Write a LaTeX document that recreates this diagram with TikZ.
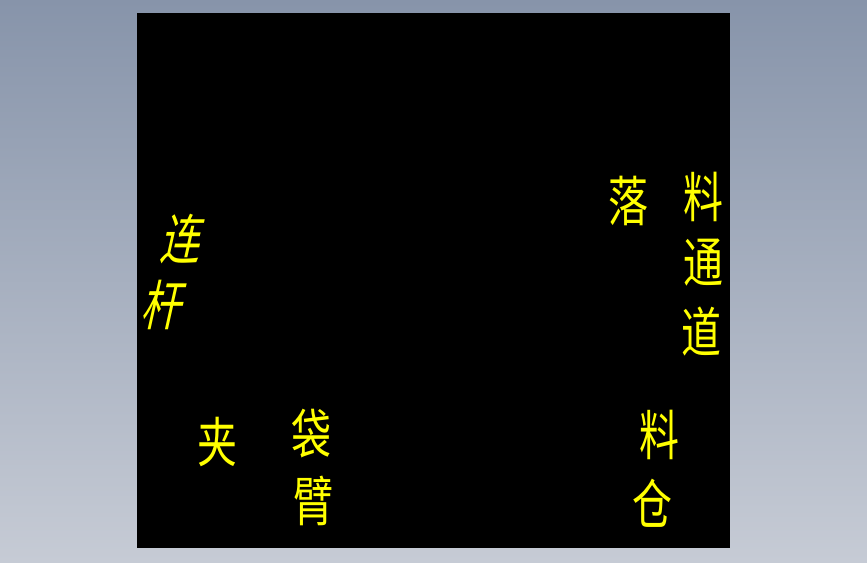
\documentclass[tikz,border=0pt]{standalone}
\usepackage{fontspec}
\newfontfamily\cjk{Noto Sans CJK SC}
\definecolor{bgtop}{RGB}{135,148,170}
\definecolor{bgbot}{RGB}{198,203,213}
\definecolor{cadyellow}{RGB}{255,255,0}
\begin{document}
\begin{tikzpicture}[x=1pt,y=-1pt,
  lbl/.style={text=cadyellow,inner sep=0pt,font=\cjk\fontsize{54}{54}\selectfont,xscale=0.74},
  slantlbl/.style={lbl,xslant=0.3}]
\shade[top color=bgtop,bottom color=bgbot] (0,0) rectangle (867,562);
\useasboundingbox (0,0) rectangle (867,562);
\fill[black] (137,13) rectangle (730,548);
% right side
\node[lbl] (luo) at (628,201) {落};
\node[lbl] (liao1) at (703,197) {料};
\node[lbl] (tong) at (703,263) {通};
\node[lbl] (dao) at (701,332) {道};
\node[lbl] (liao2) at (659,435) {料};
\node[lbl] (cang) at (652,503) {仓};
% left side
\node[slantlbl] (lian) at (184,239) {连};
\node[slantlbl] (gan) at (165,305) {杆};
\node[lbl] (jia) at (217,442) {夹};
\node[lbl] (dai) at (311,434) {袋};
\node[lbl] (bi) at (313,501) {臂};
\end{tikzpicture}
\end{document}
